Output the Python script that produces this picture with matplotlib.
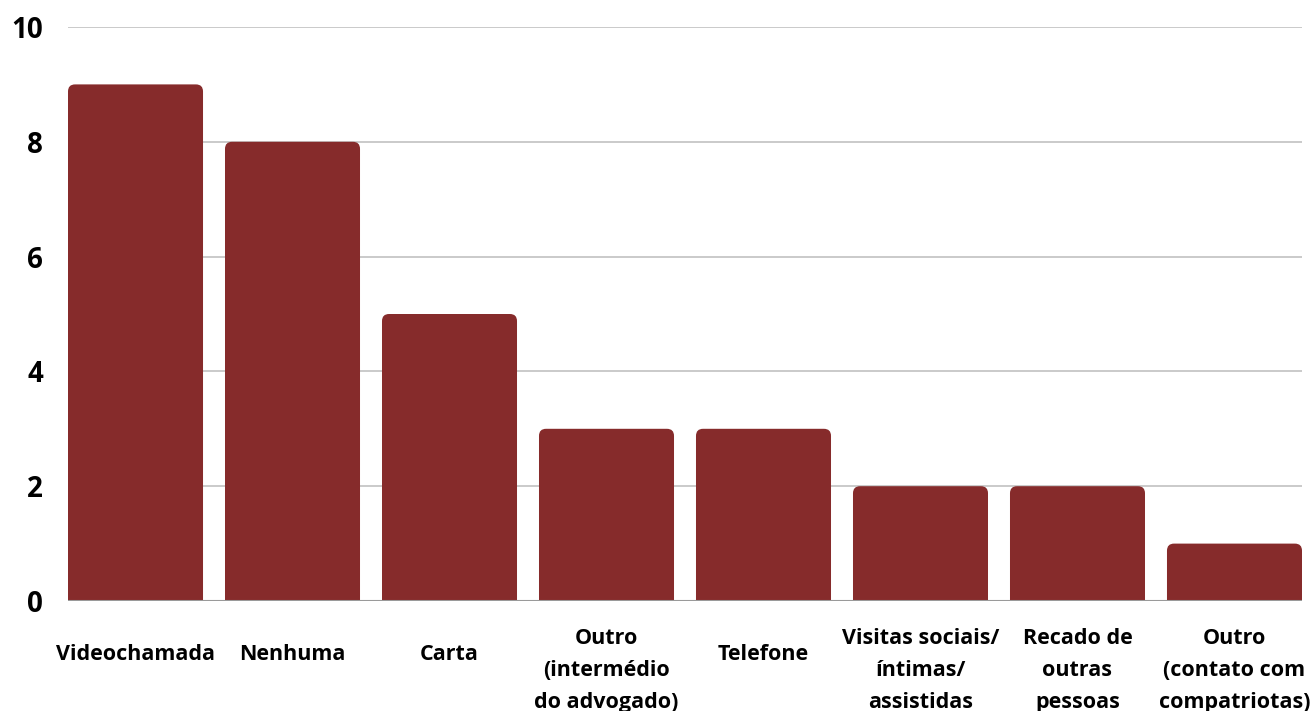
import matplotlib

matplotlib.use("Agg")
import matplotlib.pyplot as plt
from matplotlib.patches import FancyBboxPatch

categories = [
    "Videochamada",
    "Nenhuma",
    "Carta",
    "Outro\n(intermédio\ndo advogado)",
    "Telefone",
    "Visitas sociais/\níntimas/\nassistidas",
    "Recado de\noutras\npessoas",
    "Outro\n(contato com\ncompatriotas)",
]
values = [9, 8, 5, 3, 3, 2, 2, 1]
yticks = [0, 2, 4, 6, 8, 10]

BAR = "#862b2b"
FONT = ["Open Sans", "DejaVu Sans"]

fig = plt.figure(figsize=(13.16, 7.11), dpi=100)
ax = fig.add_axes([68 / 1316, 110 / 711, 1234 / 1316, 574 / 711])

width = 0.86
ax.set_xlim(-width / 2, len(values) - 1 + width / 2)
ax.set_ylim(0, 10)

# px per data unit, for rounded tops
aspect = (1234 / (len(values) - 1 + width)) / 57.4
for i, v in enumerate(values):
    p = FancyBboxPatch((i - width / 2, -0.5), width, v + 0.5,
                       boxstyle="round,pad=0,rounding_size=0.045",
                       mutation_aspect=aspect, fc=BAR, ec="none", zorder=3)
    ax.add_patch(p)

ax.set_yticks(yticks)
ax.set_yticklabels([str(t) for t in yticks], fontsize=20, fontweight="bold",
                   family=FONT)
ax.tick_params(axis="y", length=0, pad=18)
ax.set_xticks([])
ax.grid(axis="y", color="#c6c6c6", lw=1.3, zorder=0)
for s in ax.spines.values():
    s.set_visible(False)
ax.axhline(0, color="#9a9a9a", lw=1.5, zorder=4)

for i, lab in enumerate(categories):
    x = fig.transFigure.inverted().transform(ax.transData.transform((i, 0)))[0]
    if "\n" in lab:
        fig.text(x, (711 - 628) / 711, lab, ha="center", va="top",
                 fontsize=15.5, fontweight="bold", family=FONT, linespacing=1.7,
                 multialignment="center")
    else:
        fig.text(x, (711 - 655) / 711, lab, ha="center", va="center",
                 fontsize=15.5, fontweight="bold", family=FONT)

fig.savefig("out.png", dpi=100)
